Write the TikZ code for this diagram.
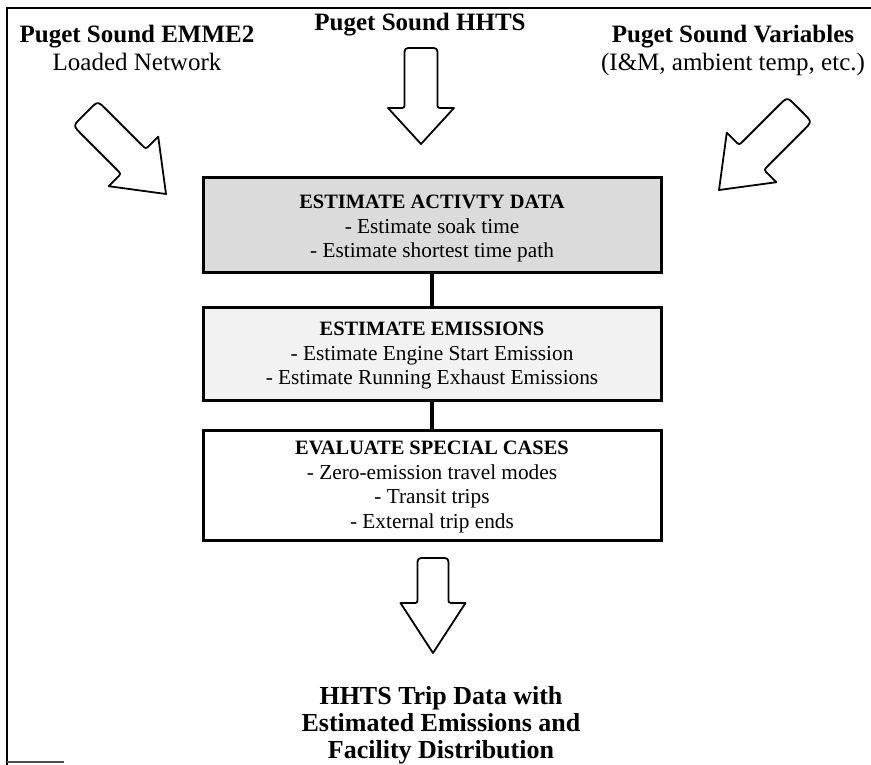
\documentclass[tikz,border=0pt]{standalone}
\usepackage{fontspec}
\setmainfont{Liberation Serif}
\newcommand\boxttlfont{\fontsize{20.4}{24.5}\selectfont\bfseries}
\begin{document}
\begin{tikzpicture}[x=1pt,y=-1pt,
  lbl/.style={font=\fontsize{25}{28}\selectfont, align=center, inner sep=0pt},
  outlbl/.style={font=\fontsize{26}{27}\selectfont\bfseries, align=center, inner sep=0pt},
  box/.style={draw, line width=3pt, minimum width=458pt, inner sep=0pt},
  boxtext/.style={align=center, inner sep=0pt, font=\fontsize{21.3}{24.5}\selectfont},
  conn/.style={line width=4pt},
  arrowline/.style={draw, line width=1.8pt, fill=white, line join=round},
  frame/.style={line width=2pt},
  pics/blockarr/.style n args={6}{code={
    % #1 shaft half width, #2 head half width, #3 head length, #4 total length, #5 back radius, #6 fillet
    \draw[arrowline] (0,0) -- (-#2,-#3) -- (-#1-#6,-#3) .. controls (-#1,-#3) .. (-#1,-#3-#6)
      -- (-#1,-#4+#5) .. controls (-#1,-#4) .. (-#1+#5,-#4)
      -- (#1-#5,-#4) .. controls (#1,-#4) .. (#1,-#4+#5)
      -- (#1,-#3-#6) .. controls (#1,-#3) .. (#1+#6,-#3) -- (#2,-#3) -- cycle;
  }}]
\useasboundingbox (0,0) rectangle (871,765);

% frame
\draw[frame] (7,765) -- (7,8) -- (871,8);
\draw[line width=1.5pt, black!70] (7,762) -- (64,762);

% top labels
\node[lbl] (emme) at (137,48) {\textbf{Puget Sound EMME2}\\Loaded Network};
\node[lbl, font=\fontsize{25}{28}\selectfont\bfseries] (hhts) at (420,25) {Puget Sound HHTS};
\node[lbl] (vars) at (733,50) {\textbf{Puget Sound Variables}\\(I\&M, ambient temp, etc.)};

% block arrows
\pic[shift={(166,194)}, rotate=45] {blockarr={17.5}{35}{46}{114}{12}{6}};
\pic[shift={(421,144)}] {blockarr={16.5}{33}{36}{96}{8}{5}};
\pic[shift={(719,190)}, rotate=-45] {blockarr={17.5}{35}{46}{114}{12}{6}};

% process boxes
\node[box, minimum height=94pt, fill=black!14] (b1) at (432,225) {};
\node[box, minimum height=93pt, fill=black!5] (b2) at (432,353.5) {};
\node[box, minimum height=110pt, fill=white] (b3) at (432,485) {};

\node[boxtext] (b1t) at (432,229)
  {{\boxttlfont ESTIMATE ACTIVTY DATA}\\- Estimate soak time\\- Estimate shortest time path};
\node[boxtext] (b2t) at (432,356)
  {{\boxttlfont ESTIMATE EMISSIONS}\\- Estimate Engine Start Emission\\- Estimate Running Exhaust Emissions};
\node[boxtext] (b3t) at (432,487)
  {{\boxttlfont EVALUATE SPECIAL CASES}\\- Zero-emission travel modes\\- Transit trips\\- External trip ends};

\draw[conn] (b1.south) -- (b2.north);
\draw[conn] (b2.south) -- (b3.north);

% output arrow and label
\pic[shift={(433,653)}] {blockarr={15.5}{32.5}{50}{95}{8}{5}};
\node[outlbl] (out) at (441,725) {HHTS Trip Data with\\Estimated Emissions and\\Facility Distribution};
\end{tikzpicture}
\end{document}
